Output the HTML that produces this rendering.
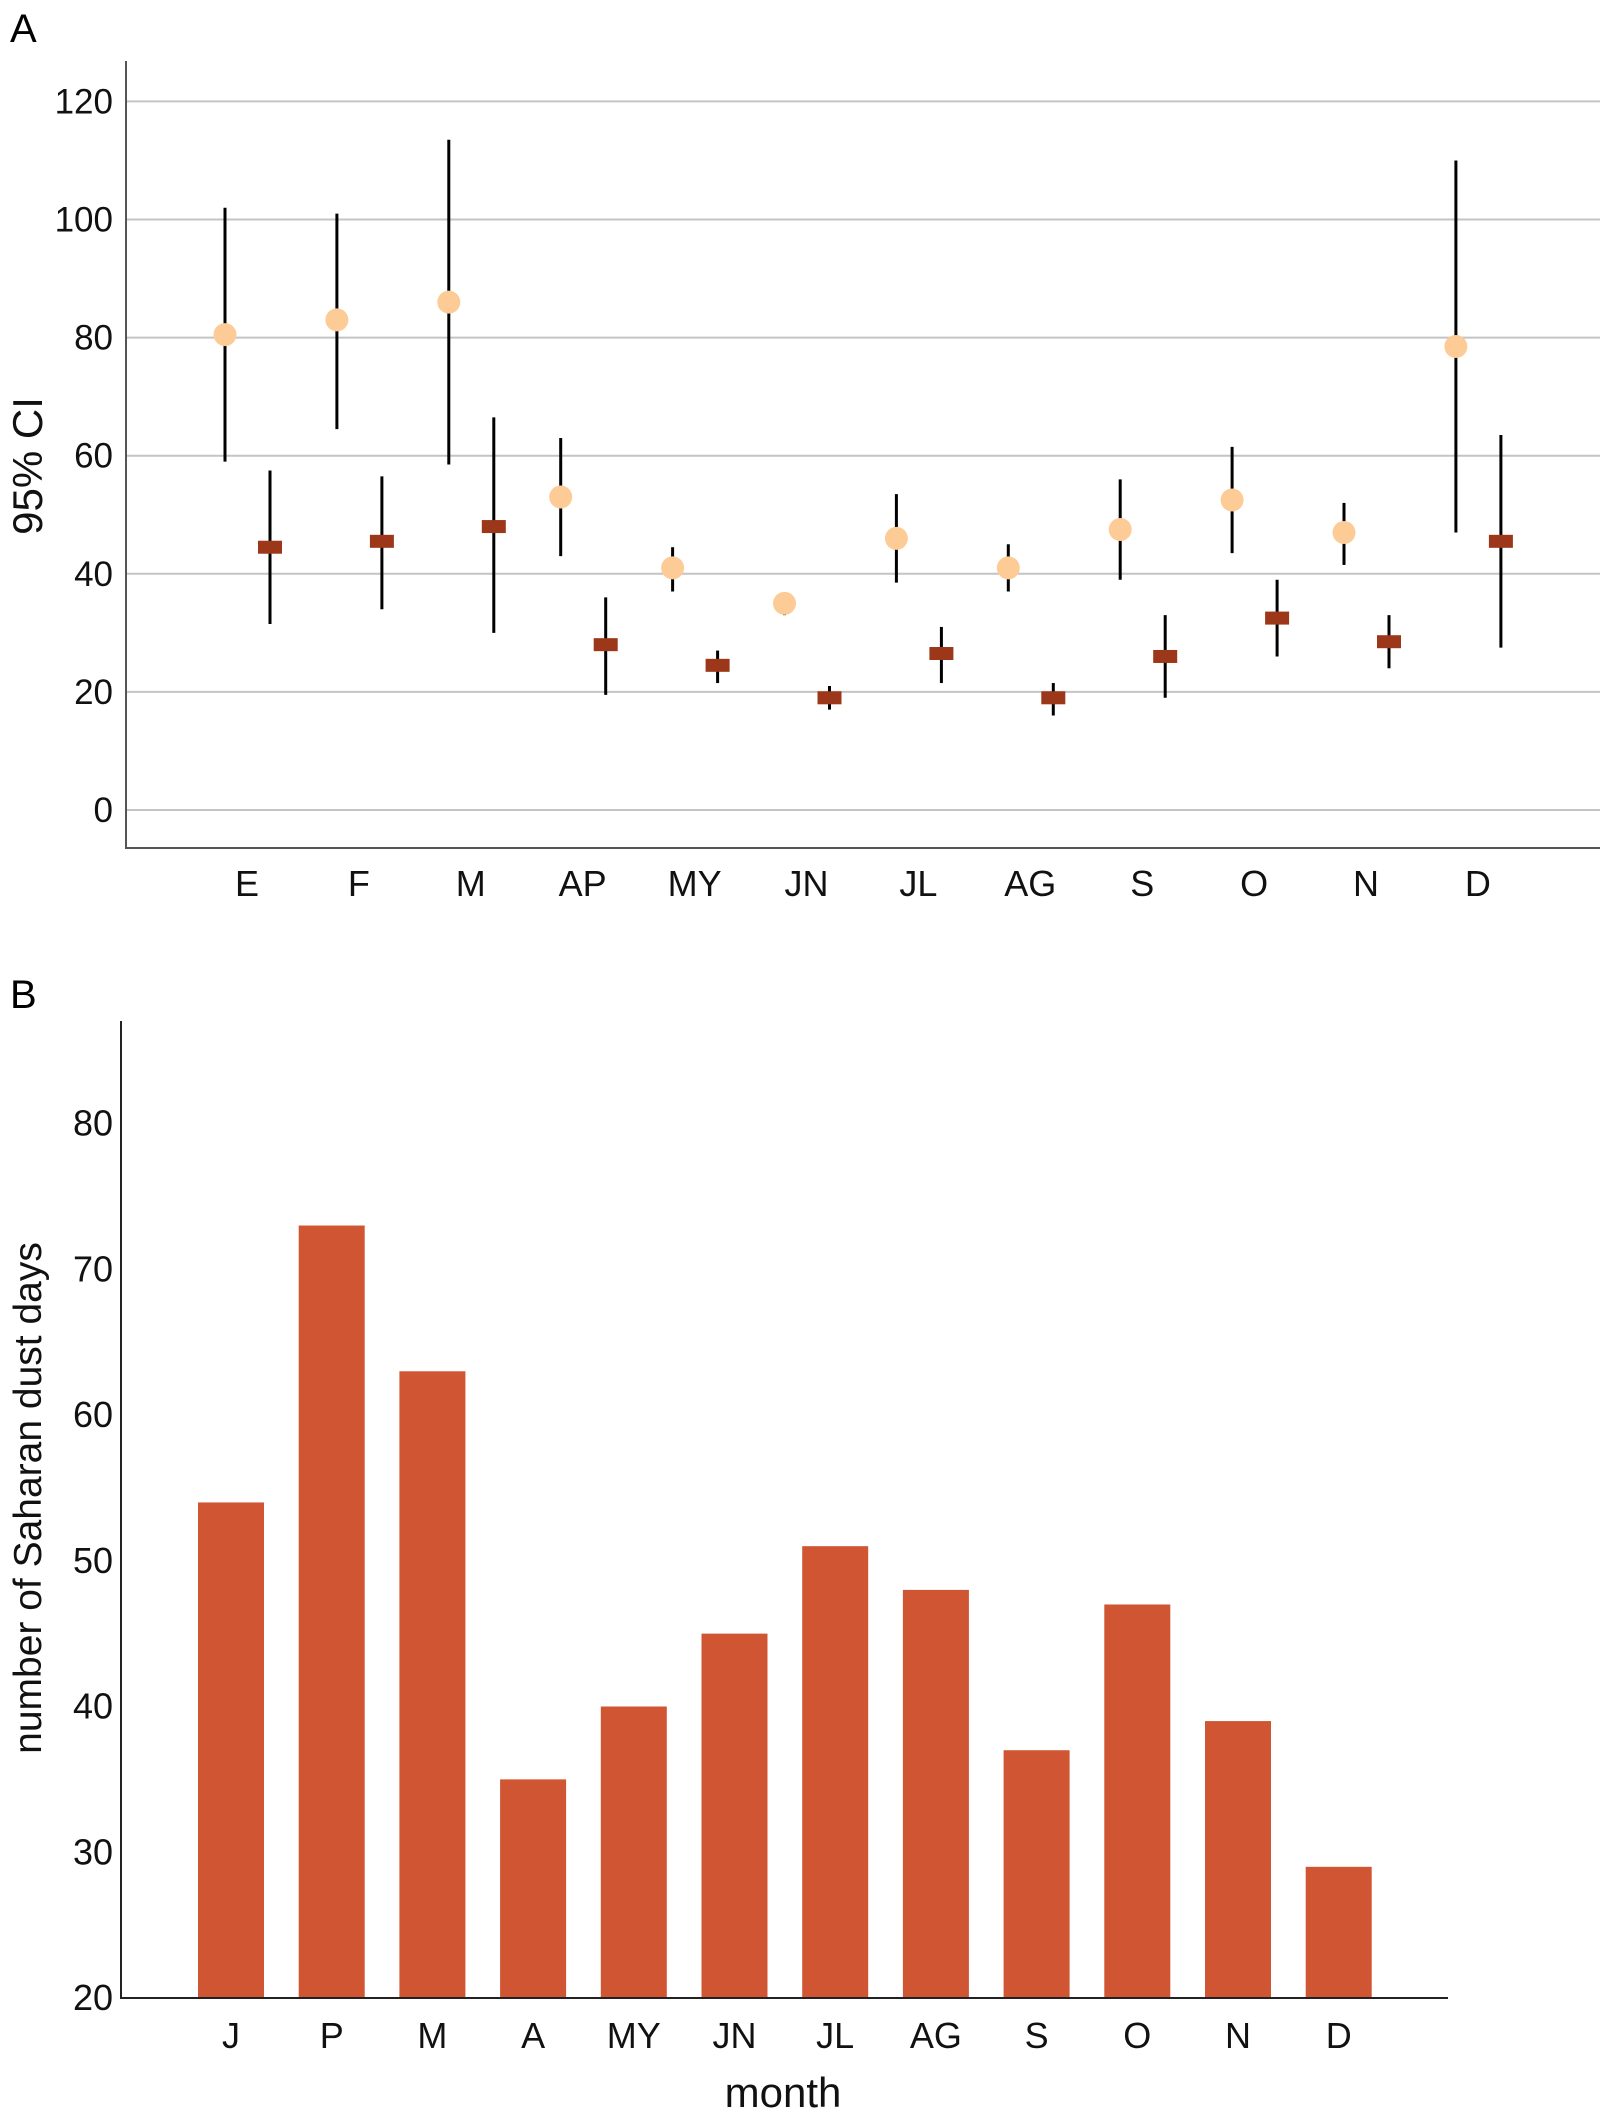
<!DOCTYPE html>
<html><head><meta charset="utf-8"><style>
html,body{margin:0;padding:0;background:#fff;}
svg{display:block;font-family:"Liberation Sans",Arial,sans-serif;}
</style></head><body>
<svg id="chart" width="1612" height="2120" viewBox="0 0 1612 2120">
<text x="10" y="42" font-size="40">A</text>
<text x="10" y="1008" font-size="40">B</text>
<g id="pa"></g>
<g id="pb"></g>
</svg>
<script>
const catsA = ["E","F","M","AP","MY","JN","JL","AG","S","O","N","D"];
const circMean = [80.5,83,86,53,41,35,46,41,47.5,52.5,47,78.5];
const circLow  = [59,64.5,58.5,43,37,33,38.5,37,39,43.5,41.5,47];
const circHigh = [102,101,113.5,63,44.5,36.5,53.5,45,56,61.5,52,110];
const sqMean = [44.5,45.5,48,28,24.5,19,26.5,19,26,32.5,28.5,45.5];
const sqLow  = [31.5,34,30,19.5,21.5,17,21.5,16,19,26,24,27.5];
const sqHigh = [57.5,56.5,66.5,36,27,21,31,21.5,33,39,33,63.5];
const ticksA = [0,20,40,60,80,100,120];

const catsB = ["J","P","M","A","MY","JN","JL","AG","S","O","N","D"];
const barVals = [54,73,63,35,40,45,51,48,37,47,39,29];
const ticksB = [20,30,40,50,60,70,80];

const NS="http://www.w3.org/2000/svg";
function mk(parent,tag,attrs){const e=document.createElementNS(NS,tag);for(const k in attrs)e.setAttribute(k,attrs[k]);parent.appendChild(e);return e;}

// Panel A
const pa=document.getElementById('pa');
const yA=v=>810-(v)*(708.6/120);
const xA=i=>247+i*111.9;
const aL=126,aR=1600,aTop=61,aBot=848;
ticksA.forEach(t=>{
  const g=mk(pa,'line',{x1:aL,x2:aR,y1:yA(t),y2:yA(t),stroke:'#c4c4c4','stroke-width':2});
  
  
  const tx=mk(pa,'text',{x:113,y:yA(t)+12,'font-size':35,'text-anchor':'end',fill:'#111'});
  tx.textContent=t;
  
  
});
let ax=mk(pa,'path',{d:`M${aL},${aTop}V${aBot}H${aR}`,fill:'none',stroke:'#555','stroke-width':2});


catsA.forEach((c,i)=>{
  const tx=mk(pa,'text',{x:xA(i),y:896,'font-size':36,'text-anchor':'middle',fill:'#111'});
  tx.textContent=c;
  
  
  const cx=xA(i)-22, sx=xA(i)+23;
  const l1=mk(pa,'line',{x1:cx,x2:cx,y1:yA(circLow[i]),y2:yA(circHigh[i]),stroke:'#000','stroke-width':3});
  
  
  const ci=mk(pa,'circle',{cx:cx,cy:yA(circMean[i]),r:11.5,fill:'#fdcb96'});
  
  
  const l2=mk(pa,'line',{x1:sx,x2:sx,y1:yA(sqLow[i]),y2:yA(sqHigh[i]),stroke:'#000','stroke-width':3});
  
  
  const sq=mk(pa,'rect',{x:sx-12,y:yA(sqMean[i])-6.5,width:24,height:13,fill:'#9c3719'});
  
  
});
let yt=mk(pa,'text',{transform:'translate(42,466) rotate(-90)','font-size':42,'text-anchor':'middle',fill:'#111'});
yt.textContent='95% CI';



// Panel B
const pb=document.getElementById('pb');
const yB=v=>1998-(v-20)*(874.5/60);
const xB=i=>231+i*100.7;
ticksB.forEach(t=>{
  const tx=mk(pb,'text',{x:113,y:yB(t)+12,'font-size':36,'text-anchor':'end',fill:'#111'});
  tx.textContent=t;
  
  
});
barVals.forEach((v,i)=>{
  const r=mk(pb,'rect',{x:xB(i)-33,y:yB(v),width:66,height:yB(20)-yB(v),fill:'#d05533'});
  
  
  const tx=mk(pb,'text',{x:xB(i),y:2048,'font-size':36,'text-anchor':'middle',fill:'#111'});
  tx.textContent=catsB[i];
  
  
});
let bx=mk(pb,'path',{d:'M121,1021V1998H1448',fill:'none',stroke:'#222','stroke-width':2});


let xt=mk(pb,'text',{x:783,y:2107,'font-size':42,'text-anchor':'middle',fill:'#111'});
xt.textContent='month';


let yt2=mk(pb,'text',{transform:'translate(41,1498) rotate(-90)','font-size':39,'text-anchor':'middle',fill:'#111'});
yt2.textContent='number of Saharan dust days';


</script>
</body></html>
